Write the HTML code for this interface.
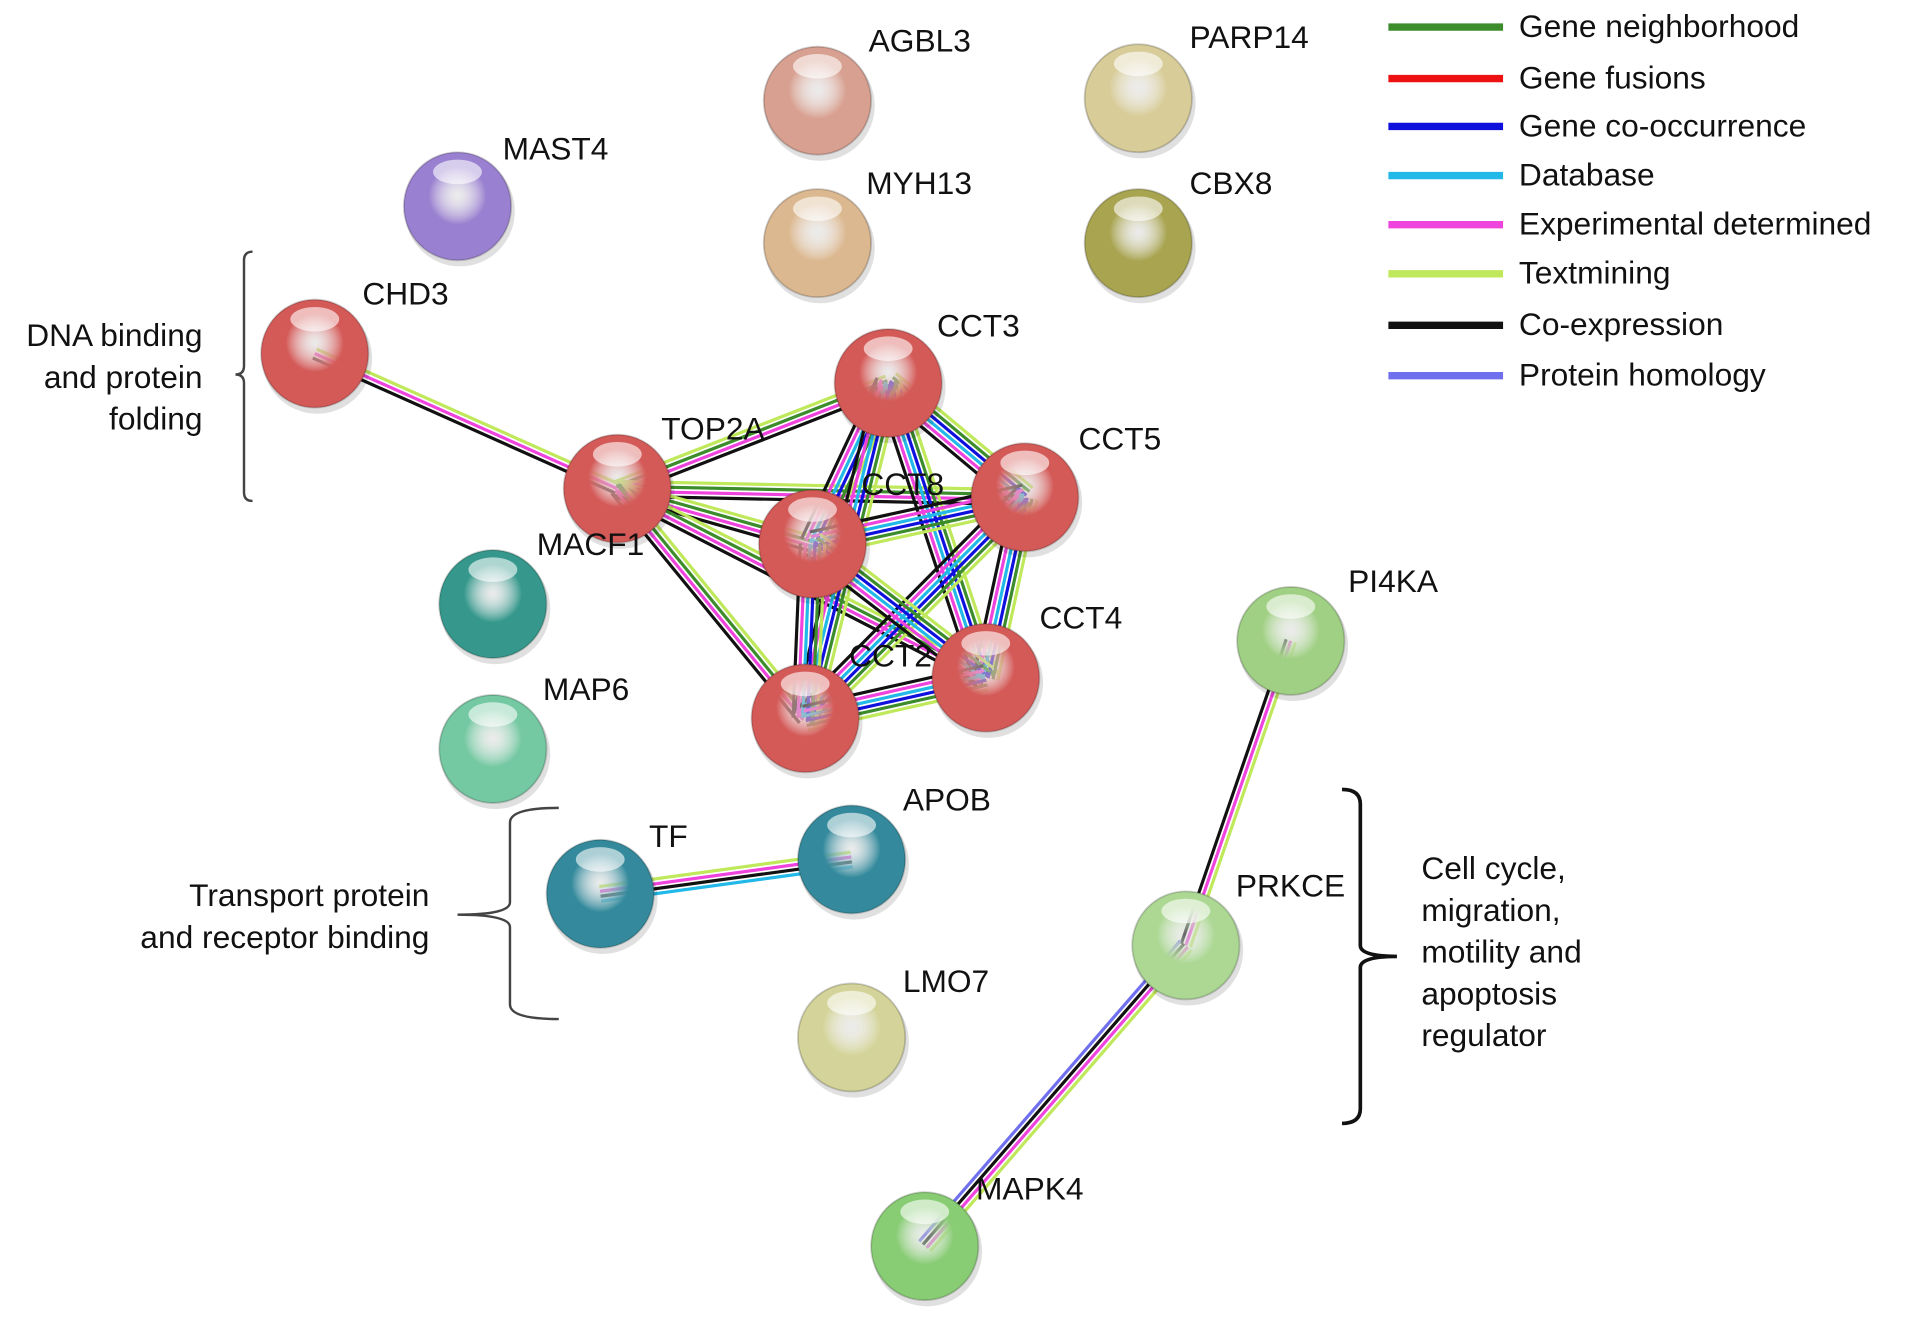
<!DOCTYPE html>
<html><head><meta charset="utf-8"><style>
html,body{margin:0;padding:0;background:#fff;}
svg{display:block;}
text{font-family:"Liberation Sans",sans-serif;font-size:26px;fill:#111;}
</style></head><body>
<svg id="s" width="1913" height="1326" viewBox="0 0 1568 1080" preserveAspectRatio="none" xmlns="http://www.w3.org/2000/svg">
<defs id="d"></defs>
<g id="edges"></g>
<g id="nodes"></g>
<g id="labels">
<text x="712" y="42">AGBL3</text>
<text x="975" y="39">PARP14</text>
<text x="412" y="130">MAST4</text>
<text x="710" y="158">MYH13</text>
<text x="975" y="158">CBX8</text>
<text x="297" y="248">CHD3</text>
<text x="768" y="274">CCT3</text>
<text x="542" y="358">TOP2A</text>
<text x="884" y="366">CCT5</text>
<text x="706" y="403">CCT8</text>
<text x="440" y="452">MACF1</text>
<text x="852" y="512">CCT4</text>
<text x="696" y="543">CCT2</text>
<text x="1105" y="482">PI4KA</text>
<text x="445" y="570">MAP6</text>
<text x="740" y="660">APOB</text>
<text x="532" y="690">TF</text>
<text x="1013" y="730">PRKCE</text>
<text x="740" y="808">LMO7</text>
<text x="800" y="977">MAPK4</text>
<text x="166" y="282" text-anchor="end">DNA binding</text>
<text x="166" y="316" text-anchor="end">and protein</text>
<text x="166" y="350" text-anchor="end">folding</text>
<text x="352" y="738" text-anchor="end">Transport protein</text>
<text x="352" y="772" text-anchor="end">and receptor binding</text>
<text x="1165" y="716">Cell cycle,</text>
<text x="1165" y="750">migration,</text>
<text x="1165" y="784">motility and</text>
<text x="1165" y="818">apoptosis</text>
<text x="1165" y="852">regulator</text>
</g>
<g fill="none" stroke="#444" stroke-width="2">
<path d="M207 205 Q200 205 200 212 L200 298 Q200 305 193 305 Q200 305 200 312 L200 401 Q200 408 207 408"/>
<path d="M458 658 Q418 658 418 670 L418 735 Q418 745 375 745 Q418 745 418 755 L418 818 Q418 830 458 830"/>
<path d="M1100 643 Q1115 643 1115 655 L1115 770 Q1115 779 1145 779 Q1115 779 1115 788 L1115 903 Q1115 915 1100 915" stroke="#111" stroke-width="3"/>
</g>
<g id="legend" stroke-width="6"></g>
</svg>
<script>
var NS="http://www.w3.org/2000/svg";
function el(t,a,p){var e=document.createElementNS(NS,t);for(var k in a)e.setAttribute(k,a[k]);p.appendChild(e);return e;}
var C={n:"#3c8c2c",f:"#ee1111",o:"#1010dd",d:"#22b8e8",e:"#ee44dd",t:"#bfe85a",x:"#111",h:"#7070ee"};
var leg=[["n","Gene neighborhood",22],["f","Gene fusions",64],["o","Gene co-occurrence",103],["d","Database",143],["e","Experimental determined",183],["t","Textmining",223],["x","Co-expression",265],["h","Protein homology",306]];
var L=document.getElementById("legend");
leg.forEach(function(l){el("line",{x1:1138,x2:1232,y1:l[2],y2:l[2],stroke:C[l[0]]},L);var t=el("text",{x:1245,y:l[2]+8},L);t.textContent=l[1];});
var N={AGBL3:[670,82,"#d8a090"],PARP14:[933,80,"#d8cc98"],MAST4:[375,168,"#9a80d0"],MYH13:[670,198,"#dcb890"],CBX8:[933,198,"#a8a450"],CHD3:[258,288,"#d45a58"],CCT3:[728,312,"#d45a58"],TOP2A:[506,398,"#d45a58"],CCT5:[840,405,"#d45a58"],CCT8:[666,443,"#d45a58"],MACF1:[404,492,"#36988c"],CCT4:[808,552,"#d45a58"],CCT2:[660,585,"#d45a58"],PI4KA:[1058,522,"#a0d084"],MAP6:[404,610,"#74c8a2"],APOB:[698,700,"#348a9c"],TF:[492,728,"#348a9c"],PRKCE:[972,770,"#acd894"],LMO7:[698,845,"#d4d49a"],MAPK4:[758,1015,"#88cc74"]};
function edge(a,b,cols){var A=N[a],B=N[b];var dx=B[0]-A[0],dy=B[1]-A[1],l=Math.hypot(dx,dy),px=-dy/l,py=dx/l,g=4,m=(cols.length-1)/2;
var E=document.getElementById("edges");cols.forEach(function(c,i){var o=(i-m)*g;el("line",{x1:A[0]+px*o,y1:A[1]+py*o,x2:B[0]+px*o,y2:B[1]+py*o,stroke:C[c],"stroke-width":2.6},E);});}
edge("CHD3","TOP2A",["t","e","x"]);
var cct=["TOP2A","CCT3","CCT5","CCT8","CCT4","CCT2"];
for(var i=0;i<cct.length;i++)for(var j=i+1;j<cct.length;j++){
 if(i==0) edge(cct[i],cct[j],["t","n","e","x"]); else edge(cct[i],cct[j],["t","n","o","d","e","x"]);}
edge("TF","APOB",["t","e","x","d"]);
edge("PI4KA","PRKCE",["t","e","x"]);
edge("PRKCE","MAPK4",["t","e","x","h"]);
var D=document.getElementById("d"),G=document.getElementById("nodes");
var k=0;for(var n in N){var v=N[n];var gid="g"+(k++);
var rg=el("radialGradient",{id:gid,cx:"0.5",cy:"0.4",r:"0.6"},D);
el("stop",{offset:"0","stop-color":"#fff","stop-opacity":"0.35"},rg);
el("stop",{offset:"0.45","stop-color":v[2]},rg);
el("stop",{offset:"1","stop-color":v[2],"stop-opacity":"1"},rg);
el("circle",{cx:v[0]+2,cy:v[1]+4,r:45,fill:"#000","opacity":"0.12"},G);
el("circle",{cx:v[0],cy:v[1],r:44,fill:"url(#"+gid+")",stroke:"#00000030","stroke-width":1.5},G);
el("ellipse",{cx:v[0],cy:v[1]-28,rx:20,ry:10,fill:"#fff",opacity:"0.6"},G);
}
</script>
</body></html>
